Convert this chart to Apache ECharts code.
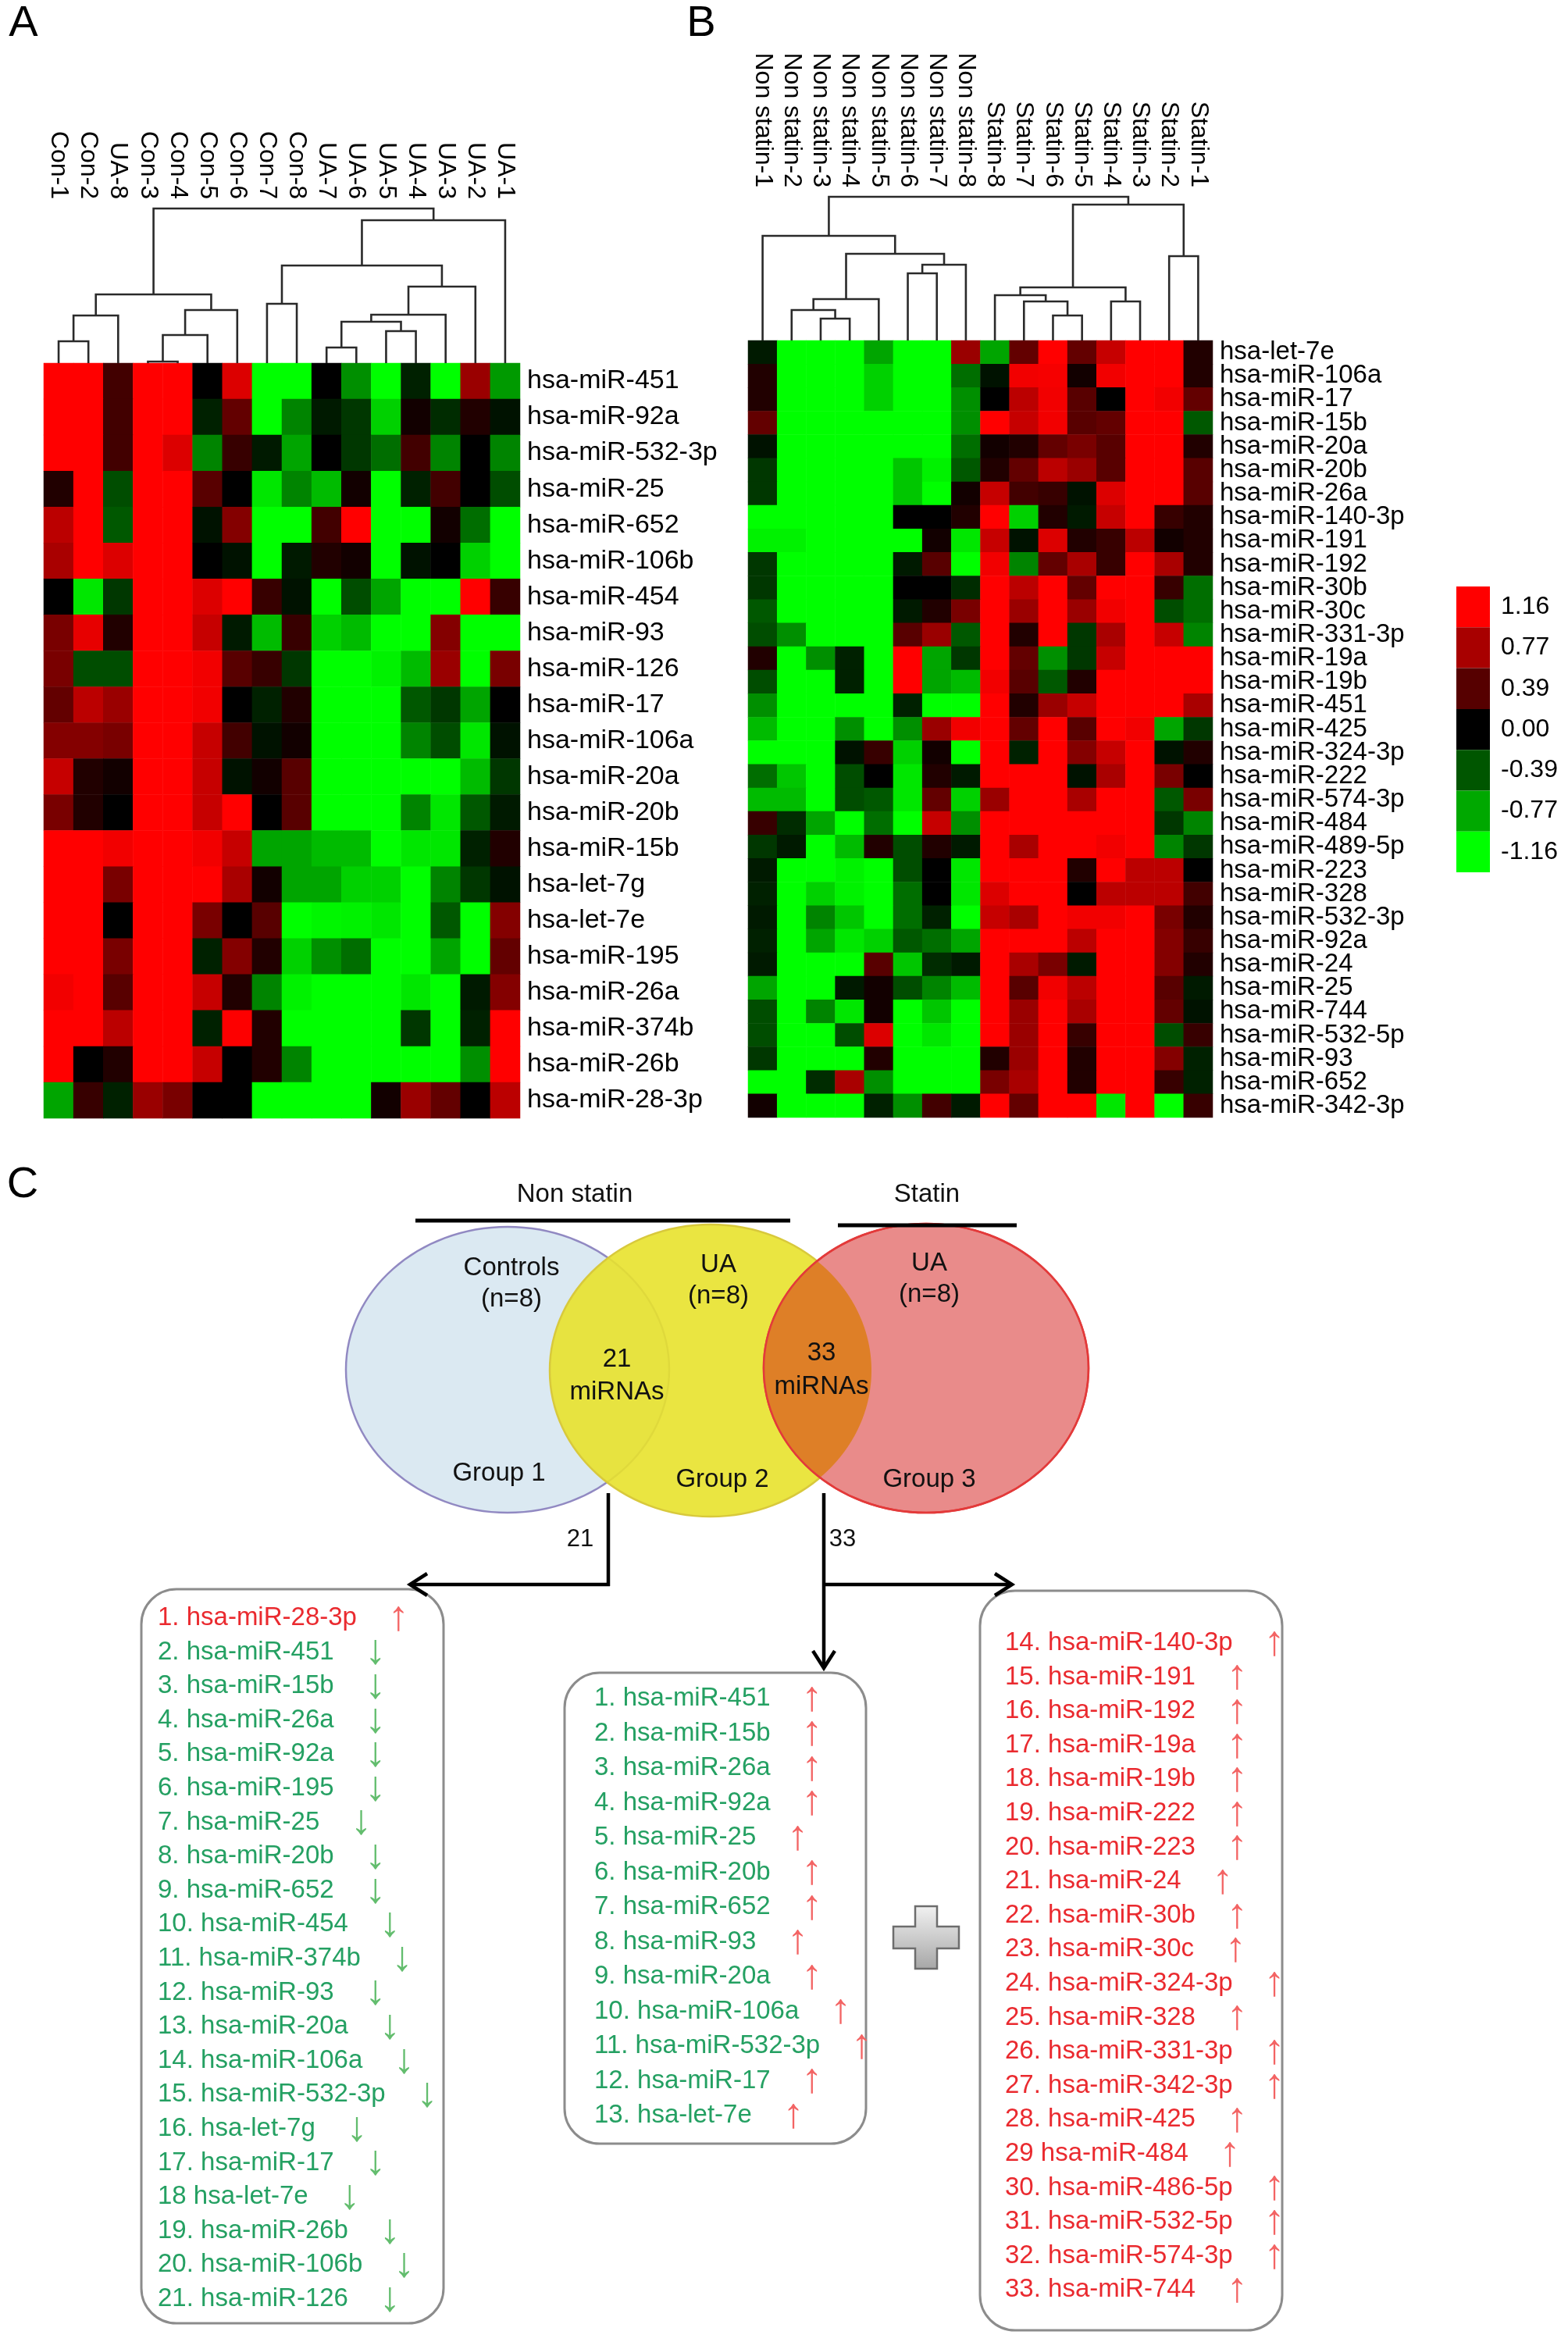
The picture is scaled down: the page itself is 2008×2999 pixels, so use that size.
<!DOCTYPE html>
<html><head><meta charset="utf-8">
<script src="https://cdn.jsdelivr.net/npm/echarts@6/dist/echarts.min.js"></script>
<style>html,body{margin:0;padding:0;background:#fff}#c{width:2008px;height:2999px}</style>
</head><body><div id="c"></div>
<script>
// ---------------- DATA ----------------
const samplesA = ['Con-1','Con-2','UA-8','Con-3','Con-4','Con-5','Con-6','Con-7','Con-8','UA-7','UA-6','UA-5','UA-4','UA-3','UA-2','UA-1'];
const mirA = ['hsa-miR-451','hsa-miR-92a','hsa-miR-532-3p','hsa-miR-25','hsa-miR-652','hsa-miR-106b','hsa-miR-454','hsa-miR-93','hsa-miR-126','hsa-miR-17','hsa-miR-106a','hsa-miR-20a','hsa-miR-20b','hsa-miR-15b','hsa-let-7g','hsa-let-7e','hsa-miR-195','hsa-miR-26a','hsa-miR-374b','hsa-miR-26b','hsa-miR-28-3p'];
const valuesA = [
[1.16,1.16,0.3,1.16,1.16,0,1.0,-1.16,-1.16,0,-0.65,-1.16,-0.15,-1.16,0.7,-0.7],
[1.16,1.16,0.3,1.16,1.16,-0.15,0.45,-1.16,-0.6,-0.12,-0.25,-0.95,0.08,-0.2,0.15,-0.08],
[1.16,1.16,0.3,1.16,1.0,-0.6,0.25,-0.12,-0.75,0,-0.25,-0.5,0.3,-0.6,0,-0.6],
[0.15,1.16,-0.35,1.16,1.16,0.4,0,-1.05,-0.6,-0.85,0.08,-1.16,-0.15,0.3,0,-0.35],
[0.85,1.16,-0.4,1.16,1.16,-0.08,0.6,-1.16,-1.16,0.3,1.16,-1.16,-1.16,0.08,-0.5,-1.16],
[0.77,1.16,1.0,1.16,1.16,0,-0.08,-1.16,-0.12,0.15,0.08,-1.16,-0.08,0,-0.95,-1.16],
[0,-1.05,-0.25,1.16,1.16,1.0,1.16,0.25,-0.08,-1.16,-0.35,-0.75,-1.16,-1.16,1.16,0.25],
[0.55,1.05,0.15,1.16,1.16,0.9,-0.12,-0.85,0.25,-0.95,-0.85,-1.16,-1.16,0.6,-1.16,-1.16],
[0.55,-0.35,-0.35,1.16,1.16,1.1,0.4,0.25,-0.25,-1.16,-1.16,-1.1,-0.85,0.7,-1.16,0.55],
[0.45,0.85,0.7,1.16,1.16,1.1,0,-0.15,0.15,-1.16,-1.16,-1.16,-0.4,-0.25,-0.75,0],
[0.6,0.6,0.55,1.16,1.16,0.9,0.3,-0.08,0.08,-1.16,-1.16,-1.16,-0.6,-0.35,-1.05,-0.08],
[0.9,0.15,0.08,1.16,1.16,0.9,-0.08,0.08,0.4,-1.16,-1.16,-1.16,-1.16,-1.16,-0.85,-0.25],
[0.55,0.15,0,1.16,1.16,0.9,1.16,0,0.4,-1.16,-1.16,-1.16,-0.6,-1.05,-0.4,-0.12],
[1.16,1.16,1.1,1.16,1.16,1.1,0.9,-0.75,-0.75,-0.85,-0.85,-1.16,-1.05,-1.05,-0.15,0.15],
[1.16,1.16,0.55,1.16,1.16,1.16,0.77,0.08,-0.75,-0.75,-0.95,-0.95,-1.16,-0.6,-0.25,-0.08],
[1.16,1.16,0,1.16,1.16,0.55,0,0.4,-1.16,-1.12,-1.1,-1.05,-1.16,-0.4,-1.16,0.6],
[1.16,1.16,0.55,1.16,1.16,-0.15,0.6,0.15,-0.95,-0.65,-0.5,-1.16,-1.16,-0.75,-1.16,0.45],
[1.1,1.16,0.4,1.16,1.16,0.9,0.15,-0.6,-1.1,-1.16,-1.16,-1.16,-1.05,-1.16,-0.12,0.6],
[1.16,1.16,0.85,1.16,1.16,-0.15,1.15,0.15,-1.16,-1.16,-1.16,-1.16,-0.25,-1.16,-0.15,1.16],
[1.16,0,0.15,1.16,1.16,0.9,0,0.15,-0.6,-1.16,-1.16,-1.16,-1.16,-1.16,-0.65,1.16],
[-0.75,0.25,-0.15,0.7,0.55,0,0,-1.16,-1.16,-1.16,-1.16,0.08,0.7,0.45,0,0.85]
];
// dendrogram merges: [nodeA, nodeB, height]; leaves 0..15, new nodes numbered from 16
const dendroA = [[3,4,2],[0,1,28],[17,2,61],[16,5,36],[19,6,68],[18,20,88],[7,8,76],[9,10,20],[11,12,41],[23,24,53],[25,13,62],[26,14,98],[22,27,125],[28,15,183],[21,29,198]];

const samplesB = ['Non statin-1','Non statin-2','Non statin-3','Non statin-4','Non statin-5','Non statin-6','Non statin-7','Non statin-8','Statin-8','Statin-7','Statin-6','Statin-5','Statin-4','Statin-3','Statin-2','Statin-1'];
const mirB = ['hsa-let-7e','hsa-miR-106a','hsa-miR-17','hsa-miR-15b','hsa-miR-20a','hsa-miR-20b','hsa-miR-26a','hsa-miR-140-3p','hsa-miR-191','hsa-miR-192','hsa-miR-30b','hsa-miR-30c','hsa-miR-331-3p','hsa-miR-19a','hsa-miR-19b','hsa-miR-451','hsa-miR-425','hsa-miR-324-3p','hsa-miR-222','hsa-miR-574-3p','hsa-miR-484','hsa-miR-489-5p','hsa-miR-223','hsa-miR-328','hsa-miR-532-3p','hsa-miR-92a','hsa-miR-24','hsa-miR-25','hsa-miR-744','hsa-miR-532-5p','hsa-miR-93','hsa-miR-652','hsa-miR-342-3p'];
const valuesB = [
[-0.12,-1.16,-1.16,-1.16,-0.75,-1.16,-1.16,0.7,-0.75,0.45,1.16,0.45,0.9,1.16,1.16,0.15],
[0.15,-1.16,-1.16,-1.16,-0.95,-1.16,-1.16,-0.5,-0.08,1.1,1.12,0.08,1.1,1.16,1.16,0.15],
[0.15,-1.16,-1.16,-1.16,-0.95,-1.16,-1.16,-0.65,0,0.85,1.1,0.4,0,1.16,1.1,0.45],
[0.45,-1.16,-1.16,-1.16,-1.16,-1.16,-1.16,-0.65,1.16,0.9,1.1,0.4,0.45,1.16,1.16,-0.4],
[-0.08,-1.16,-1.16,-1.16,-1.16,-1.16,-1.16,-0.5,0.08,0.15,0.45,0.55,0.4,1.16,1.16,0.15],
[-0.25,-1.16,-1.16,-1.16,-1.16,-0.9,-1.1,-0.4,0.15,0.45,0.85,0.7,0.4,1.16,1.16,0.4],
[-0.25,-1.16,-1.16,-1.16,-1.16,-0.9,-1.16,0.08,0.9,0.3,0.25,-0.08,1.0,1.16,1.16,0.4],
[-1.16,-1.16,-1.16,-1.16,-1.16,0,0,0.15,1.16,-0.95,0.15,-0.12,0.9,1.16,0.25,0.15],
[-1.1,-1.1,-1.16,-1.16,-1.16,-1.16,0.08,-1.05,0.9,-0.08,1.0,0.15,0.25,0.85,0.08,0.15],
[-0.25,-1.16,-1.16,-1.16,-1.16,-0.12,0.4,-1.16,1.1,-0.6,0.45,0.77,0.25,1.16,0.77,0.15],
[-0.25,-1.16,-1.16,-1.16,-1.16,0,0,-0.2,1.16,0.85,1.16,0.45,1.16,1.16,0.25,-0.5],
[-0.4,-1.16,-1.16,-1.16,-1.16,-0.12,0.15,0.55,1.16,0.7,1.16,0.7,1.1,1.16,-0.35,-0.5],
[-0.35,-0.65,-1.16,-1.16,-1.16,0.4,0.7,-0.4,1.16,0.15,1.16,-0.25,0.77,1.16,0.9,-0.6],
[0.15,-1.16,-0.65,-0.15,-1.16,1.16,-0.75,-0.25,1.16,0.45,-0.65,-0.25,0.9,1.16,1.16,1.16],
[-0.35,-1.16,-1.16,-0.15,-1.16,1.16,-0.75,-0.85,1.1,0.4,-0.4,0.15,1.16,1.16,1.16,1.16],
[-0.65,-1.16,-1.16,-1.16,-1.16,-0.15,-1.16,-1.16,1.16,0.15,0.7,0.9,1.16,1.16,1.16,0.77],
[-0.85,-1.16,-1.16,-0.65,-1.16,-0.65,0.7,1.1,1.16,0.45,1.16,0.4,1.16,1.1,-0.75,-0.25],
[-1.16,-1.16,-1.16,-0.08,0.25,-0.95,0.08,-1.16,1.16,-0.15,1.16,0.6,0.9,1.16,-0.08,0.15],
[-0.5,-0.9,-1.16,-0.35,0,-1.05,0.15,-0.12,1.16,1.16,1.16,-0.08,0.77,1.16,0.55,0],
[-0.85,-0.85,-1.16,-0.35,-0.4,-1.05,0.45,-0.95,0.7,1.16,1.16,0.77,1.16,1.16,-0.4,0.55],
[0.25,-0.2,-0.75,-1.16,-0.5,-1.16,0.9,-0.65,1.16,1.16,1.16,1.16,1.16,1.16,-0.25,-0.6],
[-0.25,-0.12,-1.16,-0.85,0.15,-0.35,0.15,-0.12,1.16,0.77,1.16,1.16,1.1,1.16,-0.6,-0.25],
[-0.12,-1.16,-1.16,-1.1,-1.16,-0.35,0,-1.05,1.16,1.16,1.16,0.15,1.16,0.85,0.85,0],
[-0.15,-1.16,-0.95,-1.1,-1.16,-0.5,0,-1.05,1.0,1.16,1.16,0,0.85,0.85,0.85,0.3],
[-0.12,-1.16,-0.6,-0.9,-1.16,-0.5,-0.15,-1.16,0.9,0.77,1.16,1.1,1.1,1.16,0.55,0.15],
[-0.15,-1.16,-0.75,-1.05,-0.95,-0.4,-0.5,-0.75,1.16,1.16,1.16,0.85,1.16,1.16,0.6,0.25],
[-0.12,-1.16,-1.16,-1.16,0.4,-0.9,-0.2,-0.12,1.16,0.77,0.55,-0.12,1.16,1.16,0.6,0.15],
[-0.75,-1.16,-1.16,-0.12,0.08,-0.35,-0.6,-0.85,1.16,0.4,1.1,0.85,1.16,1.16,0.4,-0.12],
[-0.35,-1.16,-0.6,-1.05,0.08,-1.16,-0.9,-1.16,1.16,0.7,1.16,0.77,1.16,1.16,0.45,-0.08],
[-0.35,-1.16,-1.16,-0.35,1.0,-1.16,-1.05,-1.16,1.16,0.7,1.16,0.25,1.16,1.16,-0.35,0.25],
[-0.25,-1.16,-1.16,-1.16,0.15,-1.16,-1.16,-1.16,0.15,0.7,1.16,0.15,1.16,1.16,0.6,-0.15],
[-1.16,-1.16,-0.2,0.77,-0.65,-1.16,-1.16,-1.16,0.55,0.77,1.16,0.15,1.16,1.16,0.25,-0.15],
[0.08,-1.16,-1.16,-1.16,-0.15,-0.65,0.3,-0.12,1.16,0.45,1.16,1.16,-1.05,1.16,-1.16,0.25]
];
const dendroB = [[2,3,28],[1,16,39],[17,4,53],[5,6,86],[19,7,97],[18,20,111],[0,21,134],[10,11,32],[9,23,50],[8,24,58],[12,13,50],[25,26,68],[14,15,108],[27,28,174],[22,29,184]];

const legendTicks = ['1.16','0.77','0.39','0.00','-0.39','-0.77','-1.16'];

const list21 = ['1. hsa-miR-28-3p','2. hsa-miR-451','3. hsa-miR-15b','4. hsa-miR-26a','5. hsa-miR-92a','6. hsa-miR-195','7. hsa-miR-25','8. hsa-miR-20b','9. hsa-miR-652','10. hsa-miR-454','11. hsa-miR-374b','12. hsa-miR-93','13. hsa-miR-20a','14. hsa-miR-106a','15. hsa-miR-532-3p','16. hsa-let-7g','17. hsa-miR-17','18 hsa-let-7e','19. hsa-miR-26b','20. hsa-miR-106b','21. hsa-miR-126'];
const dir21 = ['up','down','down','down','down','down','down','down','down','down','down','down','down','down','down','down','down','down','down','down','down'];
const list13 = ['1. hsa-miR-451','2. hsa-miR-15b','3. hsa-miR-26a','4. hsa-miR-92a','5. hsa-miR-25','6. hsa-miR-20b','7. hsa-miR-652','8. hsa-miR-93','9. hsa-miR-20a','10. hsa-miR-106a','11. hsa-miR-532-3p','12. hsa-miR-17','13. hsa-let-7e'];
const list20 = ['14. hsa-miR-140-3p','15. hsa-miR-191','16. hsa-miR-192','17. hsa-miR-19a','18. hsa-miR-19b','19. hsa-miR-222','20. hsa-miR-223','21. hsa-miR-24','22. hsa-miR-30b','23. hsa-miR-30c','24. hsa-miR-324-3p','25. hsa-miR-328','26. hsa-miR-331-3p','27. hsa-miR-342-3p','28. hsa-miR-425','29 hsa-miR-484','30. hsa-miR-486-5p','31. hsa-miR-532-5p','32. hsa-miR-574-3p','33. hsa-miR-744'];

// ---------------- BUILD ----------------
const FONT = '"Liberation Sans", Arial, sans-serif';
function cells(vals){ const out=[]; vals.forEach((row,r)=>row.forEach((v,c)=>out.push([c,r,v]))); return out; }
function dendroSegs(merges, n){
  const xs=[], hs=[]; for(let i=0;i<n;i++){xs.push(i+0.5);hs.push(0);}
  return merges.map(([a,b,h])=>{ const s=[xs[a],hs[a],xs[b],hs[b],h]; xs.push((xs[a]+xs[b])/2); hs.push(h); return s; });
}
function dendroRender(params, api){
  const p1=api.coord([api.value(0),api.value(1)]), p2=api.coord([api.value(0),api.value(4)]);
  const p3=api.coord([api.value(2),api.value(4)]), p4=api.coord([api.value(2),api.value(3)]);
  return {type:'polyline', shape:{points:[p1,p2,p3,p4]}, style:{stroke:'#2a2a2a', lineWidth:2.6, fill:null}};
}
const hidden = {show:false};
function catHidden(data, gi){ return {type:'category', data, gridIndex:gi, show:false}; }

const g = [];
function T(x,y,text,o){ g.push({type:'text', x, y, z:100, style:Object.assign({text, fontFamily:FONT, fontSize:33, fill:'#111', align:'center', verticalAlign:'middle', textAlign:'center', textVerticalAlign:'middle'}, o||{})}); }
function L(x1,y1,x2,y2,w){ g.push({type:'line', z:100, shape:{x1,y1,x2,y2}, style:{stroke:'#000', lineWidth:w||4.5, lineCap:'butt'}}); }
function P(points,w){ g.push({type:'polyline', z:100, shape:{points}, style:{stroke:'#000', lineWidth:w||4.5, fill:null, lineJoin:'miter'}}); }

// panel letters
T(30,31,'A',{fontSize:56, fill:'#000'});
T(898,31,'B',{fontSize:56, fill:'#000'});
T(29,1518,'C',{fontSize:56, fill:'#000'});

// Venn
const EB={cx:650,cy:1754,rx:207,ry:183}, EY={cx:910,cy:1755,rx:206,ry:187}, ER={cx:1186,cy:1752,rx:208,ry:185};
g.push({type:'ellipse', z:90, shape:EB, style:{fill:'#dbe9f2', stroke:'#9189c2', lineWidth:2.5}});
g.push({type:'ellipse', z:90, shape:EY, style:{fill:'rgba(232,226,44,0.9)', stroke:'#d8c93c', lineWidth:2.5}});
g.push({type:'ellipse', z:90, shape:ER, style:{fill:'#e98b8a', stroke:'#e33a3a', lineWidth:2.5}});
function ept(e,t){return [e.cx+e.rx*Math.cos(t), e.cy+e.ry*Math.sin(t)];}
function ins(e,p){const dx=(p[0]-e.cx)/e.rx, dy=(p[1]-e.cy)/e.ry; return dx*dx+dy*dy<=1;}
const lens=[];
for(let i=0;i<=720;i++){const p=ept(EY,-Math.PI/2+Math.PI*i/720); if(ins(ER,p)) lens.push(p);}
for(let i=0;i<=720;i++){const p=ept(ER,Math.PI/2+Math.PI*i/720); if(ins(EY,p)) lens.push(p);}
g.push({type:'polygon', z:91, shape:{points:lens}, style:{fill:'#de7f27'}});
g.push({type:'ellipse', z:92, shape:ER, style:{fill:null, stroke:'#e33a3a', lineWidth:2.5}});
L(532,1563,1012,1563,5); L(1073,1569,1302,1569,5);
T(736,1530,'Non statin'); T(1187,1530,'Statin');
T(655,1624,'Controls'); T(655,1664,'(n=8)');
T(920,1620,'UA'); T(920,1660,'(n=8)');
T(1190,1618,'UA'); T(1190,1658,'(n=8)');
T(790,1741,'21'); T(790,1783,'miRNAs');
T(1052,1733,'33'); T(1052,1776,'miRNAs');
T(639,1887,'Group 1'); T(925,1895,'Group 2'); T(1190,1895,'Group 3');

// connectors and arrows
L(779,1912,779,2031); L(781,2029,527,2029); P([[547,2015],[525,2029],[547,2043]]);
L(1055,1912,1055,2133); L(1053,2029,1294,2029); P([[1274,2015],[1296,2029],[1274,2043]]);
P([[1041,2114],[1055,2136],[1069,2114]]);
T(743,1971,'21',{fontSize:31}); T(1079,1971,'33',{fontSize:31});

// boxes
const boxStyle={fill:null, stroke:'#8c8c8c', lineWidth:3};
g.push({type:'rect', z:95, shape:{x:181,y:2035,width:387,height:940,r:45}, style:boxStyle});
g.push({type:'rect', z:95, shape:{x:723,y:2142,width:386,height:603,r:45}, style:boxStyle});
g.push({type:'rect', z:95, shape:{x:1255,y:2037,width:387,height:947,r:45}, style:boxStyle});

// plus sign
(function(){const cx=1186, cy=2481, a=42, b=14, c=40;
 g.push({type:'polygon', z:95, shape:{points:[[cx-b,cy-c],[cx+b,cy-c],[cx+b,cy-b],[cx+a,cy-b],[cx+a,cy+b],[cx+b,cy+b],[cx+b,cy+c],[cx-b,cy+c],[cx-b,cy+b],[cx-a,cy+b],[cx-a,cy-b],[cx-b,cy-b]]},
  style:{fill:{type:'linear',x:0,y:0,x2:0,y2:1,colorStops:[{offset:0,color:'#f2f2f2'},{offset:1,color:'#a6a6a6'}]}, stroke:'#6d6d6d', lineWidth:2.5}});})();

// lists
const GREEN='#24a062', RED='#ea2a2f', AGREEN='#63bd6e', ARED='#f36464';
function list(items, dirs, x, y0, step, colorFn){
  items.forEach((s,i)=>{
    const up = dirs[i]==='up';
    g.push({type:'text', z:100, x, y:y0+i*step, style:{
      text: s+'{a|'+(up?'↑':'↓')+'}', fontFamily:FONT, fontSize:33, fill:colorFn(i),
      align:'left', verticalAlign:'middle', textAlign:'left', textVerticalAlign:'middle',
      rich:{a:{fill:up?ARED:AGREEN, fontSize:54, fontFamily:FONT, padding:[0,0,0,40]}}}});
  });
}
list(list21, dir21, 202, 2072, 43.6, i=> i===0?RED:GREEN);
list(list13, list13.map(()=> 'up'), 761, 2175, 44.5, ()=>GREEN);
list(list20, list20.map(()=> 'up'), 1287, 2104, 43.6, ()=>RED);

const option = {
  backgroundColor:'#fff',
  animation:false,
  grid:[
    {left:56, top:465, width:610, height:967},
    {left:56, top:265, width:610, height:200},
    {left:958, top:436, width:595, height:995},
    {left:958, top:246, width:595, height:190}
  ],
  xAxis:[
    catHidden(samplesA,0),
    {type:'value', gridIndex:1, min:0, max:16, show:false},
    {type:'category', gridIndex:1, data:samplesA, position:'top', axisLine:hidden, axisTick:hidden,
     axisLabel:{rotate:90, interval:0, margin:10, fontSize:32, fontFamily:FONT, color:'#000'}},
    catHidden(samplesB,2),
    {type:'value', gridIndex:3, min:0, max:16, show:false},
    {type:'category', gridIndex:3, data:samplesB, position:'top', axisLine:hidden, axisTick:hidden,
     axisLabel:{rotate:90, interval:0, margin:6, fontSize:32, fontFamily:FONT, color:'#000'}}
  ],
  yAxis:[
    {type:'category', gridIndex:0, data:mirA, inverse:true, position:'right', axisLine:hidden, axisTick:hidden,
     axisLabel:{interval:0, margin:9, fontSize:34, fontFamily:FONT, color:'#000'}},
    {type:'value', gridIndex:1, min:0, max:200, show:false},
    {type:'category', gridIndex:2, data:mirB, inverse:true, position:'right', axisLine:hidden, axisTick:hidden,
     axisLabel:{interval:0, margin:9, fontSize:33, fontFamily:FONT, color:'#000'}},
    {type:'value', gridIndex:3, min:0, max:190, show:false}
  ],
  visualMap:[
    {type:'continuous', show:false, min:-1.16, max:1.16, seriesIndex:[0,1], inRange:{color:['#00ff00','#000000','#ff0000']}},
    {type:'piecewise', seriesIndex:[], left:1865, top:751, orient:'vertical', align:'left', padding:0,
     itemWidth:43, itemHeight:52.3, itemGap:0, itemSymbol:'rect', textGap:14, hoverLink:false, selectedMode:false,
     textStyle:{fontSize:32, fontFamily:FONT, color:'#000'},
     pieces:[
      {min:0.97, label:legendTicks[0], color:'#ff0000'},
      {min:0.58, max:0.97, label:legendTicks[1], color:'#a80000'},
      {min:0.2, max:0.58, label:legendTicks[2], color:'#560000'},
      {min:-0.2, max:0.2, label:legendTicks[3], color:'#000000'},
      {min:-0.58, max:-0.2, label:legendTicks[4], color:'#005600'},
      {min:-0.97, max:-0.58, label:legendTicks[5], color:'#00a800'},
      {max:-0.97, label:legendTicks[6], color:'#00ff00'}
     ]}
  ],
  series:[
    {type:'heatmap', xAxisIndex:0, yAxisIndex:0, data:cells(valuesA), itemStyle:{borderWidth:0}, emphasis:{disabled:true}},
    {type:'heatmap', xAxisIndex:3, yAxisIndex:2, data:cells(valuesB), itemStyle:{borderWidth:0}, emphasis:{disabled:true}},
    {type:'custom', xAxisIndex:1, yAxisIndex:1, data:dendroSegs(dendroA,16), renderItem:dendroRender, encode:{x:[0,2], y:[1,3,4]}, clip:false, silent:true},
    {type:'custom', xAxisIndex:4, yAxisIndex:3, data:dendroSegs(dendroB,16), renderItem:dendroRender, encode:{x:[0,2], y:[1,3,4]}, clip:false, silent:true}
  ],
  graphic: g
};
const chart = echarts.init(document.getElementById('c'), null, {renderer:'canvas'});
chart.setOption(option);
</script>
</body></html>
